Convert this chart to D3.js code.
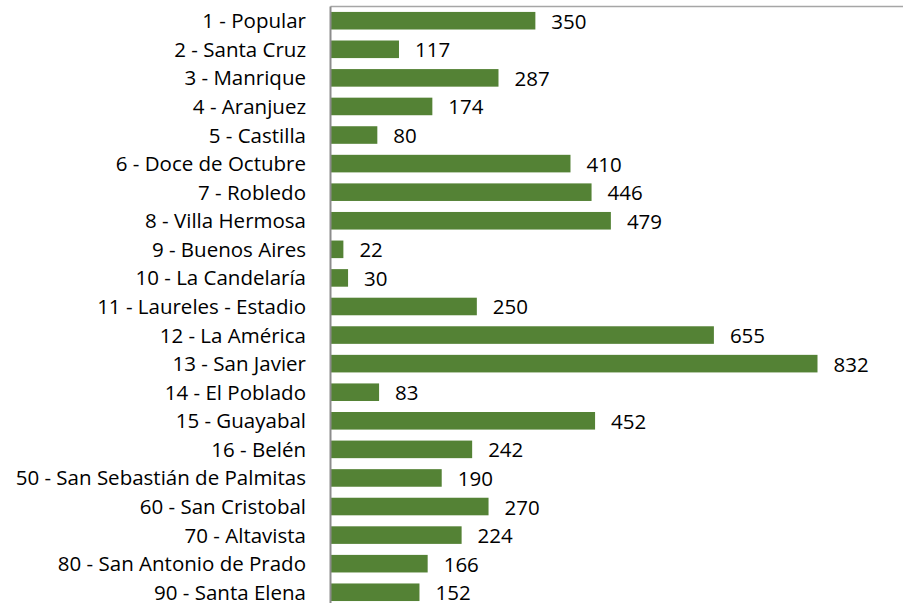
<!DOCTYPE html>
<html>
<head>
<meta charset="utf-8">
<script src="https://cdn.jsdelivr.net/npm/d3@7"></script>
<style>
  body { margin: 0; background: #fff; }
  text { font-family: "Open Sans", "Noto Sans", sans-serif; fill: #000; }
</style>
</head>
<body>
<div id="chart"></div>
<script>
// comunas y cantidades
var comunas = [
  "1 - Popular", "2 - Santa Cruz", "3 - Manrique", "4 - Aranjuez", "5 - Castilla",
  "6 - Doce de Octubre", "7 - Robledo", "8 - Villa Hermosa", "9 - Buenos Aires",
  "10 - La Candelaría", "11 - Laureles - Estadio", "12 - La América", "13 - San Javier",
  "14 - El Poblado", "15 - Guayabal", "16 - Belén", "50 - San Sebastián de Palmitas",
  "60 - San Cristobal", "70 - Altavista", "80 - San Antonio de Prado", "90 - Santa Elena"
];
var valores = [350, 117, 287, 174, 80, 410, 446, 479, 22, 30, 250, 655, 832, 83, 452, 242, 190, 270, 224, 166, 152];

var width = 903, height = 603;
var marginLeft = 330.5, marginTop = 6.5;

var svg = d3.select("#chart").append("svg")
    .attr("width", width)
    .attr("height", height);

var xScale = d3.scaleLinear()
    .domain([0, 832])
    .range([marginLeft, marginLeft + 487]);

var yScale = d3.scaleBand()
    .domain(comunas)
    .range([marginTop, marginTop + 21 * 28.57])
    .paddingInner(0.385)
    .paddingOuter(0.19);

// borde superior
svg.append("line")
    .attr("x1", marginLeft).attr("x2", width)
    .attr("y1", marginTop).attr("y2", marginTop)
    .attr("stroke", "#a6a6a6")
    .attr("stroke-width", 1.5);

svg.selectAll("rect.bar")
    .data(valores)
    .enter().append("rect")
    .attr("class", "bar")
    .attr("x", marginLeft + 0.5)
    .attr("y", function(d, i){ return yScale(comunas[i]); })
    .attr("width", function(d){ return xScale(d) - marginLeft - 0.5; })
    .attr("height", yScale.bandwidth())
    .attr("fill", "#548235");

svg.selectAll("text.val")
    .data(valores)
    .enter().append("text")
    .attr("class", "val")
    .attr("x", function(d){ return xScale(d) + 16; })
    .attr("y", function(d, i){ return yScale(comunas[i]) + yScale.bandwidth() / 2 + 8; })
    .attr("font-size", 20.5)
    .text(function(d){ return d; });

var yAxis = svg.append("g")
    .attr("transform", "translate(" + marginLeft + ",0)")
    .call(d3.axisLeft(yScale).tickSize(0).tickPadding(24.5));

yAxis.select(".domain").attr("stroke", "#8c8c8c").attr("stroke-width", 2)
    .attr("d", "M0," + marginTop + "V" + height);
yAxis.selectAll("text")
    .attr("font-size", 20.5)
    .attr("font-family", "'Open Sans', 'Noto Sans', sans-serif")
    .attr("dy", null)
    .attr("y", 7.5)
    .attr("fill", "#000");
</script>
</body>
</html>
